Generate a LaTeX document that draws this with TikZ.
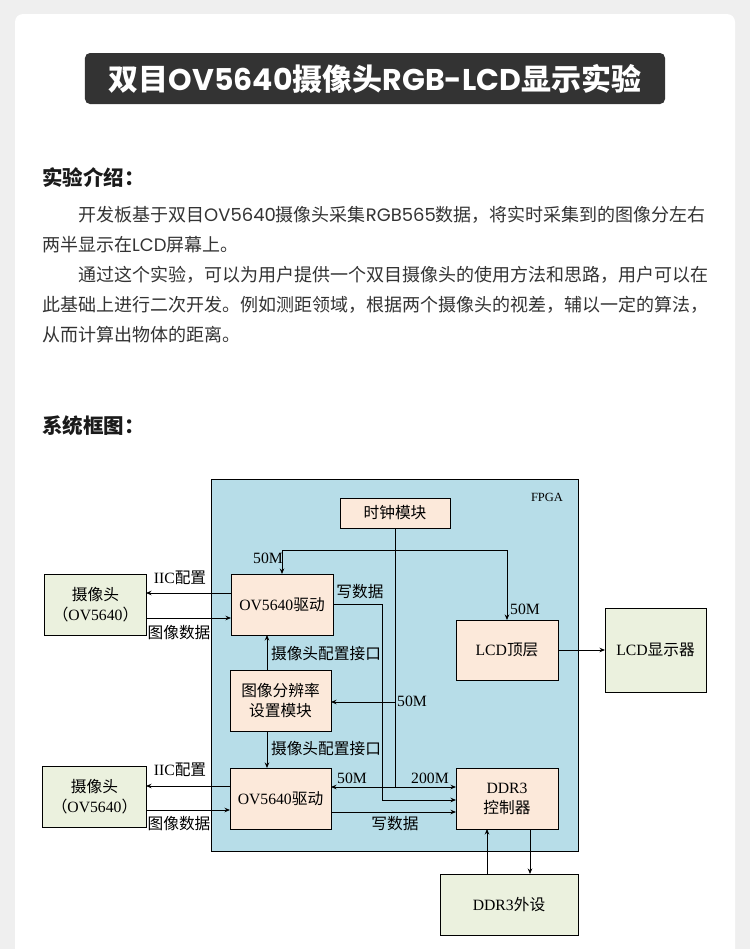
\documentclass[tikz,border=0pt]{standalone}
\usepackage{fontspec}
\setmainfont{Noto Sans CJK SC}
\newfontfamily\ser{Liberation Serif}
\newfontfamily\pop{Poppins}
\newcommand{\lt}[1]{{\pop #1}}
\usetikzlibrary{arrows.meta,calc}
\definecolor{pagebg}{HTML}{EFEFEF}
\definecolor{titlebg}{HTML}{333333}
\definecolor{fpgabg}{HTML}{B7DDE8}
\definecolor{modbg}{HTML}{FCE9DA}
\definecolor{extbg}{HTML}{EBF1DE}
\definecolor{bodytxt}{HTML}{333333}
\definecolor{headtxt}{HTML}{1A1A1A}
\newcommand{\dfont}{\fontsize{15.7bp}{20bp}\selectfont}
\newcommand{\bfont}{\fontsize{18bp}{21bp}\selectfont}
\begin{document}
\begin{tikzpicture}[x=1bp,y=-1bp,
  arr/.style={-{Stealth[length=5.5bp,width=4.5bp]}, line width=0.8bp},
  mod/.style={draw, line width=1bp, fill=modbg, inner sep=0pt, outer sep=0pt, align=center, font=\dfont},
  ext/.style={mod, fill=extbg},
  lbl/.style={inner sep=0pt, font=\dfont},
  body/.style={anchor=west, inner sep=0pt, font=\bfont, text=bodytxt},
  head/.style={anchor=west, inner sep=0pt, font=\bfseries\fontsize{20.5bp}{24bp}\selectfont, text=headtxt}]
\useasboundingbox (0,0) rectangle (750,949);
\fill[pagebg] (0,0) rectangle (750,949);
\fill[white] (15,949) [rounded corners=8bp] -- (15,14) -- (735,14) [sharp corners] -- (735,949) -- cycle;

% title
\node[fill=titlebg, rounded corners=5bp, minimum width=580bp, minimum height=51bp, inner sep=0pt, text=white, font=\bfseries\fontsize{30bp}{34bp}\selectfont] (title) at (375,78.5) {双目\lt{OV5640}摄像头\lt{RGB-LCD}显示实验};

% intro
\node[head] (h1) at (42,178) {实验介绍：};
\node[body] (l1) at (78,215) {开发板基于双目\lt{OV5640}摄像头采集\lt{RGB565}数据，将实时采集到的图像分左右};
\node[body] (l2) at (42,245) {两半显示在\lt{LCD}屏幕上。};
\node[body] (l3) at (78,275) {通过这个实验，可以为用户提供一个双目摄像头的使用方法和思路，用户可以在};
\node[body] (l4) at (42,305) {此基础上进行二次开发。例如测距领域，根据两个摄像头的视差，辅以一定的算法，};
\node[body] (l5) at (42,335) {从而计算出物体的距离。};
\node[head] (h2) at (42,426) {系统框图：};

% FPGA region
\node[draw, line width=1bp, fill=fpgabg, minimum width=367bp, minimum height=372bp, inner sep=0pt, outer sep=0pt] (fpga) at (394.5,665) {};
\node[lbl, font=\ser\fontsize{12.5bp}{14bp}\selectfont] (fpgal) at (547,497) {FPGA};

% modules
\node[mod, minimum width=110bp, minimum height=30bp] (clk) at (395,513) {时钟模块};
\node[mod, minimum width=102bp, minimum height=61bp] (ov1) at (282,604.5) {{\ser OV5640}驱动};
\node[mod, minimum width=102bp, minimum height=60bp] (lcd) at (507,650) {{\ser LCD}顶层};
\node[mod, minimum width=101bp, minimum height=61bp] (res) at (280.5,700.5) {图像分辨率\\设置模块};
\node[mod, minimum width=101bp, minimum height=61bp] (ov2) at (280.5,798.5) {{\ser OV5640}驱动};
\node[mod, minimum width=102bp, minimum height=61bp] (ddr) at (507,798.5) {{\ser DDR3}\\控制器};

% external
\node[ext, minimum width=101bp, minimum height=61bp] (cam1) at (95.5,604.5) {摄像头\\（{\ser OV5640}）};
\node[ext, minimum width=103bp, minimum height=61bp] (cam2) at (94.5,796.5) {摄像头\\（{\ser OV5640}）};
\node[ext, minimum width=101bp, minimum height=84bp] (lcdd) at (655.5,650) {{\ser LCD}显示器};
\node[ext, minimum width=138bp, minimum height=61bp] (ddrx) at (509,904.5) {{\ser DDR3}外设};

% clock distribution
\draw[arr] (clk.south) |- ($(ddr.west)+(0,-11.5)$);
\coordinate (j1) at (395,550);
\draw[arr] (j1) -| (ov1.north);
\draw[arr] (j1) -| (lcd.north);
\coordinate (j2) at (395,702);
\draw[arr] (j2) -- (res.east |- j2);
\coordinate (j3) at (395,787);
\draw[arr] (j3) -- (ov2.east |- j3);

% write data
\coordinate (w1) at (382,800);
\draw[arr] (ov1.east) -| (w1) -- (ddr.west |- w1);
\draw[arr] ($(ov2.east)+(0,13.5)$) coordinate (w2) -- (ddr.west |- w2);

% camera config interface
\draw[arr] ($(res.north)+(-13.5,0)$) coordinate (c1) -- (c1 |- ov1.south);
\draw[arr] ($(res.south)+(-13.5,0)$) coordinate (c2) -- (c2 |- ov2.north);

% cameras
\draw[arr] ($(ov1.west)+(0,-11.5)$) coordinate (i1) -- (i1 -| cam1.east);
\draw[arr] ($(cam1.east)+(0,13.5)$) coordinate (d1) -- (d1 -| ov1.west);
\draw[arr] ($(ov2.west)+(0,-12.5)$) coordinate (i2) -- (i2 -| cam2.east);
\draw[arr] ($(cam2.east)+(0,13.5)$) coordinate (d2) -- (d2 -| ov2.west);

% LCD
\draw[arr] (lcd.east) -- (lcdd.west);

% DDR3 external
\draw[arr] ($(ddrx.north)+(-22,0)$) coordinate (e1) -- (e1 |- ddr.south);
\draw[arr] ($(ddr.south)+(23,0)$) coordinate (e2) -- (e2 |- ddrx.north);

% labels
\node[lbl] (m1) at (268,558) {\ser 50M};
\node[lbl] (m2) at (525,609) {\ser 50M};
\node[lbl] (m3) at (412,701) {\ser 50M};
\node[lbl] (m4) at (352,778) {\ser 50M};
\node[lbl] (m5) at (430,778) {\ser 200M};
\node[lbl] (wd1) at (360,592) {写数据};
\node[lbl] (wd2) at (395,824) {写数据};
\node[lbl] (cf1) at (326,654) {摄像头配置接口};
\node[lbl] (cf2) at (326,749) {摄像头配置接口};
\node[lbl] (iic1) at (180,578) {{\ser IIC}配置};
\node[lbl] (iic2) at (180,770) {{\ser IIC}配置};
\node[lbl] (img1) at (179,633) {图像数据};
\node[lbl] (img2) at (179,824) {图像数据};
\end{tikzpicture}
\end{document}
